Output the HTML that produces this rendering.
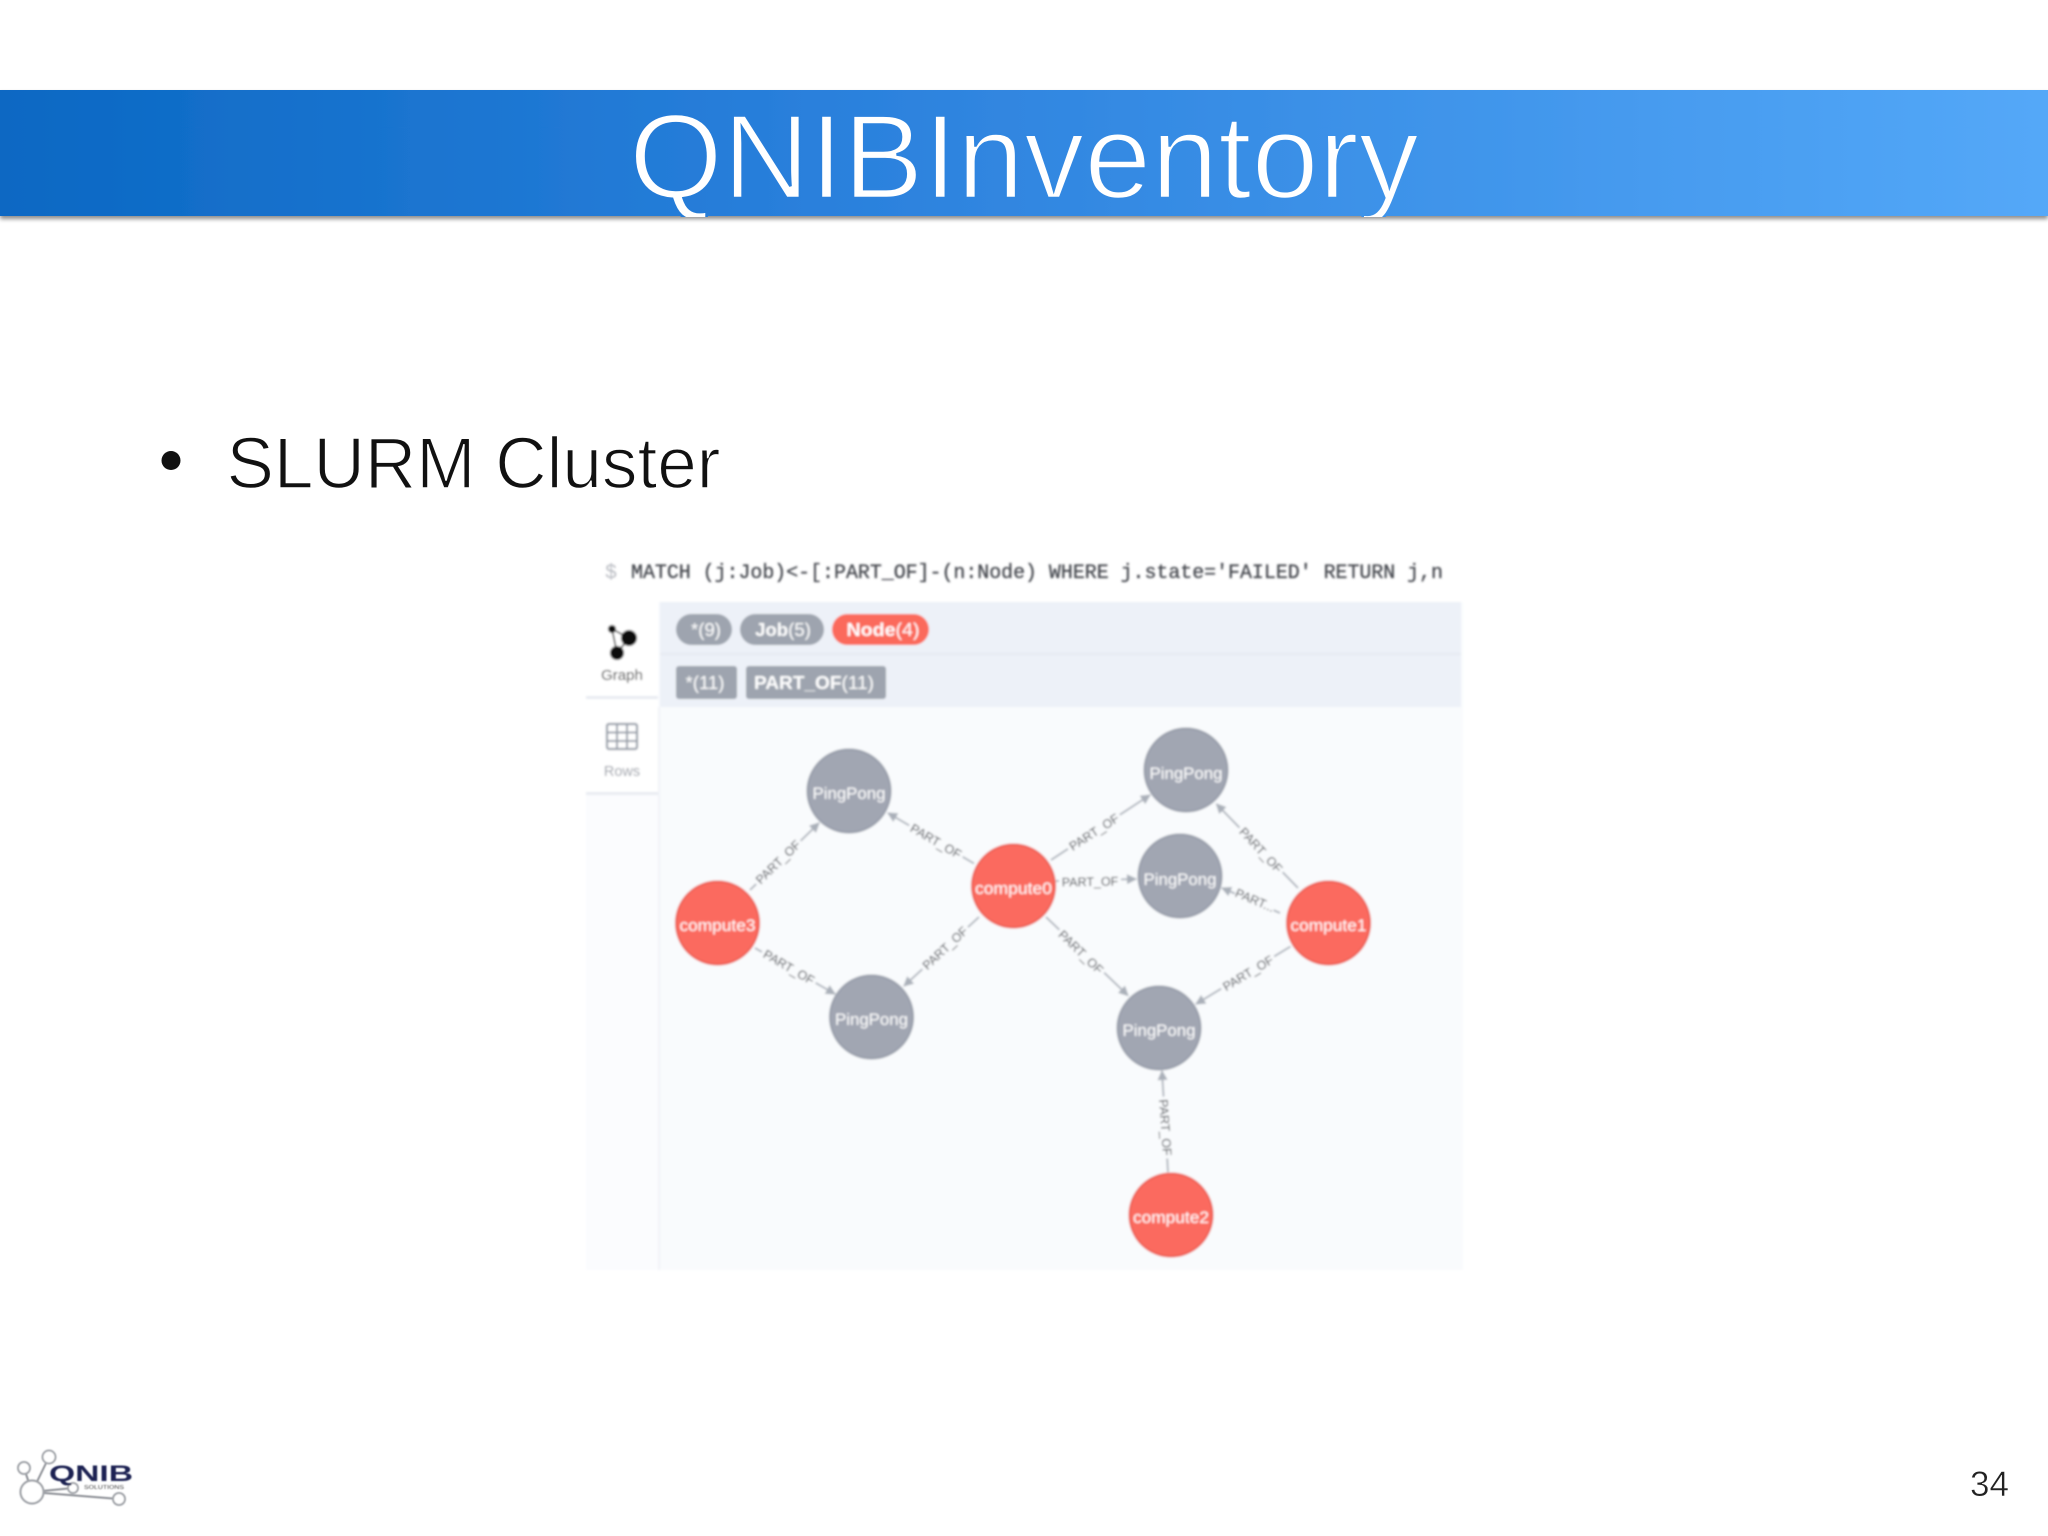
<!DOCTYPE html>
<html lang="en">
<head>
<meta charset="utf-8">
<title>QNIBInventory</title>
<style>
html,body{margin:0;padding:0;width:2048px;height:1536px;background:#fff;overflow:hidden}
svg{display:block}
text{font-family:"Liberation Sans",sans-serif}
.e{stroke:#aab0b9;stroke-width:1.8;fill:none;marker-end:url(#arr)}
.lb{font-size:12.5px;fill:#33363d;text-anchor:middle}
.gn{fill:#a1a6b2;stroke:#989eaa;stroke-width:2}
.rn{fill:#fb6b5e;stroke:#ec5e54;stroke-width:2}
.nt{font-size:17px;fill:#fff;text-anchor:middle}
.ch{font-size:18.6px;fill:#fff;text-anchor:middle}
</style>
</head>
<body>
<svg width="2048" height="1536" viewBox="0 0 2048 1536" xmlns="http://www.w3.org/2000/svg">
<defs>
<linearGradient id="bar" gradientUnits="userSpaceOnUse" x1="0" y1="153" x2="2048" y2="153">
<stop offset="0" stop-color="#0a68c3"/>
<stop offset="0.4" stop-color="#2a80dc"/>
<stop offset="1" stop-color="#54a8f8"/>
</linearGradient>
<clipPath id="barclip"><rect x="0" y="80" width="2048" height="137"/></clipPath>
<filter id="sh" x="-2%" y="-20%" width="104%" height="150%">
<feDropShadow dx="0" dy="3" stdDeviation="2.2" flood-color="#000" flood-opacity="0.45"/>
</filter>
<filter id="bl" x="-5%" y="-5%" width="110%" height="110%">
<feGaussianBlur stdDeviation="0.95"/>
</filter>
<filter id="bl2" x="-10%" y="-10%" width="120%" height="120%">
<feGaussianBlur stdDeviation="0.8"/>
</filter>
<marker id="arr" viewBox="0 0 10 10" refX="9" refY="5" markerWidth="12" markerHeight="10" markerUnits="userSpaceOnUse" orient="auto">
<path d="M0 0L10 5L0 10Z" fill="#aab0b9"/>
</marker>
</defs>

<!-- title bar -->
<rect x="0" y="90" width="2048" height="126" fill="url(#bar)" filter="url(#sh)"/>
<g clip-path="url(#barclip)">
<text x="629" y="198" font-size="120" fill="#fff" stroke="url(#bar)" stroke-width="2.6" textLength="790" lengthAdjust="spacingAndGlyphs">QNIBInventory</text>
</g>

<!-- bullet -->
<circle cx="171" cy="460.5" r="9.5" fill="#111"/>
<text x="226.5" y="488" font-size="72" fill="#111" stroke="#fff" stroke-width="1.5" textLength="494" lengthAdjust="spacingAndGlyphs">SLURM Cluster</text>

<!-- screenshot -->
<g filter="url(#bl)">
<rect x="586" y="602" width="877" height="668" fill="#f9fbfd"/>
<text x="605" y="578" style="font-family:'Liberation Mono',monospace" font-size="20" fill="#44474e" stroke="#44474e" stroke-width="0.3"><tspan fill="#b9bcc2" stroke="none">$</tspan><tspan x="631" textLength="812" lengthAdjust="spacingAndGlyphs">MATCH (j:Job)&lt;-[:PART_OF]-(n:Node) WHERE j.state='FAILED' RETURN j,n</tspan></text>

<!-- sidebar -->
<rect x="586" y="602" width="73" height="668" fill="#fbfcfe"/>
<rect x="586" y="602" width="72" height="94" fill="#fff"/>
<rect x="586" y="696" width="72" height="3" fill="#e9ecf2"/>
<rect x="586" y="699" width="72" height="93" fill="#fff"/>
<rect x="586" y="792" width="72" height="3" fill="#e9ecf2"/>
<rect x="658" y="707" width="2" height="563" fill="#f1f3f8"/>

<!-- header -->
<rect x="660" y="602" width="801" height="105" fill="#edf1f8"/>
<rect x="660" y="653" width="801" height="2" fill="#e6eaf2"/>

<!-- chips -->
<rect x="676" y="614" width="56" height="31" rx="15.5" fill="#9ea4af"/>
<text class="ch" x="706" y="636">*(9)</text>
<rect x="740" y="614" width="84" height="31" rx="15.5" fill="#9ea4af"/>
<text class="ch" x="783" y="636"><tspan font-weight="bold">Job</tspan>(5)</text>
<rect x="832" y="614" width="97" height="31" rx="15.5" fill="#fb6a5c"/>
<text class="ch" x="883" y="636" textLength="73" lengthAdjust="spacingAndGlyphs"><tspan font-weight="bold">Node</tspan>(4)</text>
<rect x="676" y="666" width="61" height="33" rx="3" fill="#9ea4af"/>
<text class="ch" x="705" y="689">*(11)</text>
<rect x="746" y="666" width="140" height="33" rx="3" fill="#9ea4af"/>
<text class="ch" x="814" y="689" textLength="120" lengthAdjust="spacingAndGlyphs"><tspan font-weight="bold">PART_OF</tspan>(11)</text>

<!-- graph icon -->
<path d="M612 629L617 653L629 638Z" fill="none" stroke="#222" stroke-width="1.5"/>
<circle cx="612" cy="629" r="4" fill="#111"/>
<circle cx="629" cy="638" r="8" fill="#111"/>
<circle cx="617" cy="653" r="7" fill="#111"/>
<text x="622" y="680" font-size="15" fill="#333" text-anchor="middle">Graph</text>

<!-- grid icon -->
<rect x="607" y="724" width="30" height="25" rx="2" fill="none" stroke="#9aa0ab" stroke-width="2.2"/>
<path d="M607 732.5H637M607 741H637M617 724V749M627 724V749" stroke="#9aa0ab" stroke-width="2" fill="none"/>
<text x="622" y="776" font-size="14.5" fill="#9a9ea7" text-anchor="middle">Rows</text>

<!-- edges -->
<line class="e" x1="750" y1="890" x2="819" y2="823"/>
<line class="e" x1="755" y1="948" x2="835" y2="994"/>
<line class="e" x1="974" y1="863.5" x2="888" y2="813"/>
<line class="e" x1="979" y1="917" x2="904" y2="986"/>
<line class="e" x1="1051" y1="860" x2="1150" y2="795"/>
<line class="e" x1="1056" y1="881" x2="1136" y2="879"/>
<line class="e" x1="1046" y1="917" x2="1128" y2="995.5"/>
<line class="e" x1="1298" y1="888" x2="1216.5" y2="804"/>
<line class="e" x1="1280" y1="913" x2="1222" y2="888"/>
<line class="e" x1="1290.5" y1="946.5" x2="1196" y2="1004"/>
<line class="e" x1="1168" y1="1172" x2="1162" y2="1071"/>

<!-- edge labels -->
<g transform="translate(778 862) rotate(-44)"><rect x="-31" y="-9" width="62" height="18" fill="#f9fbfd"/><text class="lb" y="4.5">PART_OF</text></g>
<g transform="translate(789 967) rotate(30)"><rect x="-31" y="-9" width="62" height="18" fill="#f9fbfd"/><text class="lb" y="4.5">PART_OF</text></g>
<g transform="translate(936 841) rotate(30)"><rect x="-31" y="-9" width="62" height="18" fill="#f9fbfd"/><text class="lb" y="4.5">PART_OF</text></g>
<g transform="translate(945 948) rotate(-43)"><rect x="-31" y="-9" width="62" height="18" fill="#f9fbfd"/><text class="lb" y="4.5">PART_OF</text></g>
<g transform="translate(1094 832) rotate(-33)"><rect x="-31" y="-9" width="62" height="18" fill="#f9fbfd"/><text class="lb" y="4.5">PART_OF</text></g>
<g transform="translate(1090 881.5) rotate(-1)"><rect x="-31" y="-9" width="62" height="18" fill="#f9fbfd"/><text class="lb" y="4.5">PART_OF</text></g>
<g transform="translate(1081 952) rotate(44)"><rect x="-31" y="-9" width="62" height="18" fill="#f9fbfd"/><text class="lb" y="4.5">PART_OF</text></g>
<g transform="translate(1261 850) rotate(47)"><rect x="-31" y="-9" width="62" height="18" fill="#f9fbfd"/><text class="lb" y="4.5">PART_OF</text></g>
<g transform="translate(1255 900) rotate(23)"><rect x="-21" y="-9" width="42" height="18" fill="#f9fbfd"/><text class="lb" y="4.5">PART...</text></g>
<g transform="translate(1248 973) rotate(-31)"><rect x="-31" y="-9" width="62" height="18" fill="#f9fbfd"/><text class="lb" y="4.5">PART_OF</text></g>
<g transform="translate(1165.5 1127.5) rotate(86)"><rect x="-31" y="-9" width="62" height="18" fill="#f9fbfd"/><text class="lb" y="4.5">PART_OF</text></g>

<!-- nodes -->
<circle class="gn" cx="849" cy="791" r="41.5"/>
<text class="nt" x="849" y="799" textLength="73" lengthAdjust="spacingAndGlyphs">PingPong</text>
<circle class="gn" cx="871.5" cy="1017" r="41.5"/>
<text class="nt" x="871.5" y="1025" textLength="73" lengthAdjust="spacingAndGlyphs">PingPong</text>
<circle class="gn" cx="1186" cy="770" r="41.5"/>
<text class="nt" x="1186" y="779" textLength="73" lengthAdjust="spacingAndGlyphs">PingPong</text>
<circle class="gn" cx="1180" cy="876" r="41.5"/>
<text class="nt" x="1180" y="885" textLength="73" lengthAdjust="spacingAndGlyphs">PingPong</text>
<circle class="gn" cx="1159" cy="1028" r="41.5"/>
<text class="nt" x="1159" y="1036" textLength="73" lengthAdjust="spacingAndGlyphs">PingPong</text>
<circle class="rn" cx="717.5" cy="923" r="41.5"/>
<text class="nt" x="717.5" y="931" textLength="76" lengthAdjust="spacingAndGlyphs">compute3</text>
<circle class="rn" cx="1013.5" cy="886" r="41.5"/>
<text class="nt" x="1013.5" y="894" textLength="77" lengthAdjust="spacingAndGlyphs">compute0</text>
<circle class="rn" cx="1328.5" cy="923" r="41.5"/>
<text class="nt" x="1328.5" y="931" textLength="76" lengthAdjust="spacingAndGlyphs">compute1</text>
<circle class="rn" cx="1171" cy="1215" r="41.5"/>
<text class="nt" x="1171" y="1223" textLength="76" lengthAdjust="spacingAndGlyphs">compute2</text>
</g>

<!-- logo -->
<g filter="url(#bl2)">
<path d="M32 1492L24 1468M32 1492L49 1457M32 1492L73 1488M32 1492L119 1499" stroke="#8d9096" stroke-width="2" fill="none"/>
<circle cx="24" cy="1468" r="6" fill="#fff" stroke="#a2a5aa" stroke-width="2"/>
<circle cx="49" cy="1457" r="6.5" fill="#fff" stroke="#a2a5aa" stroke-width="2"/>
<circle cx="32" cy="1492" r="11.5" fill="#fff" stroke="#a2a5aa" stroke-width="2.2"/>
<circle cx="73" cy="1488" r="5" fill="#fff" stroke="#a2a5aa" stroke-width="2"/>
<circle cx="119" cy="1499" r="6" fill="#fff" stroke="#a2a5aa" stroke-width="2"/>
<text x="49" y="1481" font-size="22" font-weight="bold" fill="#1c2152" textLength="84" lengthAdjust="spacingAndGlyphs">QNIB</text>
<text x="84" y="1489" font-size="5" fill="#444" textLength="40" lengthAdjust="spacingAndGlyphs">SOLUTIONS</text>
</g>

<!-- page number -->
<text x="1970" y="1496" font-size="35" fill="#222" stroke="#fff" stroke-width="0.5" textLength="39" lengthAdjust="spacingAndGlyphs">34</text>
</svg>
</body>
</html>
